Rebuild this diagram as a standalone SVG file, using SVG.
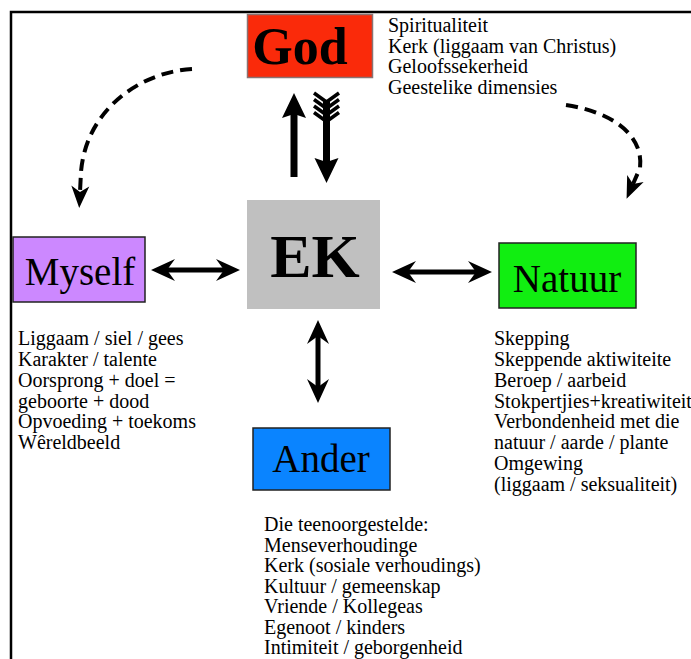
<svg xmlns="http://www.w3.org/2000/svg" width="691" height="659" viewBox="0 0 691 659">
<style>
.lbl{font-family:"Liberation Serif","Times New Roman",serif;fill:#000}
.list{font-family:"Liberation Serif","Times New Roman",serif;font-size:20px;fill:#000}
.big{font-family:"Liberation Serif","Times New Roman",serif;font-size:39px;fill:#000}
.bold{font-family:"Liberation Serif","Times New Roman",serif;font-weight:bold;fill:#000}
.dbl{stroke:#000;stroke-width:5;fill:none;marker-start:url(#head);marker-end:url(#head)}
.dash{stroke:#000;stroke-width:4;fill:none;stroke-dasharray:12 7;marker-end:url(#dhead)}
.thick{stroke:#000;stroke-width:7;fill:none;marker-end:url(#bighead)}
.chev{stroke:#000;stroke-width:3.5;fill:none}
</style>
<defs>
<marker id="head" markerUnits="userSpaceOnUse" markerWidth="26" markerHeight="24" refX="8" refY="11" orient="auto-start-reverse" overflow="visible">
<path d="M0,0 L24,11 L0,22 L8,11 Z" fill="#000"/>
</marker>
<marker id="dhead" markerUnits="userSpaceOnUse" markerWidth="24" markerHeight="20" refX="6" refY="9" orient="auto" overflow="visible">
<path d="M0,0 L22,9 L0,18 L6,9 Z" fill="#000"/>
</marker>
<marker id="bighead" markerUnits="userSpaceOnUse" markerWidth="27" markerHeight="26" refX="4" refY="12" orient="auto" overflow="visible">
<path d="M0,0 L25,12 L0,24 L4,12 Z" fill="#000"/>
</marker>
</defs>
<rect x="0" y="0" width="691" height="659" fill="#fff"/>
<path d="M11,700 L11,12 L700,12" stroke="#000" stroke-width="2.5" fill="none"/>

<g id="connectors">
<path class="dbl" d="M167,270 L224,270"/>
<path class="dbl" d="M408,272 L476,272"/>
<path class="dbl" d="M318,336 L318,387"/>
<path class="thick" d="M294,177 L294,114"/>
<path class="thick" d="M326.5,100 L326.5,162"/>
<polyline class="chev" points="314,93 326.5,102 339,93"/>
<polyline class="chev" points="314,99.5 326.5,108.5 339,99.5"/>
<polyline class="chev" points="314,106 326.5,115 339,106"/>
<polyline class="chev" points="314,112.5 326.5,121.5 339,112.5"/>
<path class="dash" d="M192,69 C140,72 86,110 81,172 L80,192"/>
<path class="dash" d="M566,105 C612,112 644,135 640,168 L633,184"/>
</g>

<g id="god">
<rect x="247.5" y="14.5" width="125" height="63" fill="#fa2a0a" stroke="#8a7272" stroke-width="1.5"/>
<text class="bold" x="300" y="64" font-size="52" text-anchor="middle">God</text>
<text class="list" x="388"><tspan x="388" y="32">Spiritualiteit</tspan><tspan x="388" y="52.5">Kerk (liggaam van Christus)</tspan><tspan x="388" y="73">Geloofssekerheid</tspan><tspan x="388" y="93.5">Geestelike dimensies</tspan></text>
</g>

<g id="ek">
<rect x="247" y="200" width="133" height="109" fill="#c0c0c0"/>
<text class="bold" x="315" y="277" font-size="62" text-anchor="middle">EK</text>
</g>

<g id="myself">
<rect x="13" y="237" width="132" height="65" fill="#cc88ff" stroke="#222" stroke-width="1.5"/>
<text class="big" x="80" y="285" text-anchor="middle">Myself</text>
<text class="list"><tspan x="18" y="345">Liggaam / siel / gees</tspan><tspan x="18" y="366">Karakter / talente</tspan><tspan x="18" y="386.5">Oorsprong + doel =</tspan><tspan x="18" y="407.5">geboorte + dood</tspan><tspan x="18" y="428">Opvoeding + toekoms</tspan><tspan x="18" y="449">Wêreldbeeld</tspan></text>
</g>

<g id="natuur">
<rect x="499" y="243" width="137" height="65" fill="#11ee11" stroke="#222" stroke-width="1.5"/>
<text class="big" x="567" y="292" text-anchor="middle">Natuur</text>
<text class="list"><tspan x="494" y="345">Skepping</tspan><tspan x="494" y="366">Skeppende aktiwiteite</tspan><tspan x="494" y="386.5">Beroep / aarbeid</tspan><tspan x="494" y="407.5">Stokpertjies+kreatiwiteit</tspan><tspan x="494" y="428">Verbondenheid met die</tspan><tspan x="494" y="449">natuur / aarde / plante</tspan><tspan x="494" y="470">Omgewing</tspan><tspan x="494" y="490.5">(liggaam / seksualiteit)</tspan></text>
</g>

<g id="ander">
<rect x="253" y="428" width="137" height="62" fill="#0a84ff" stroke="#222" stroke-width="1.5"/>
<text class="big" x="321" y="472" text-anchor="middle">Ander</text>
<text class="list"><tspan x="264" y="531">Die teenoorgestelde:</tspan><tspan x="264" y="551.5">Menseverhoudinge</tspan><tspan x="264" y="572">Kerk (sosiale verhoudings)</tspan><tspan x="264" y="592.5">Kultuur / gemeenskap</tspan><tspan x="264" y="613">Vriende / Kollegeas</tspan><tspan x="264" y="633.5">Egenoot / kinders</tspan><tspan x="264" y="654">Intimiteit / geborgenheid</tspan></text>
</g>
</svg>
